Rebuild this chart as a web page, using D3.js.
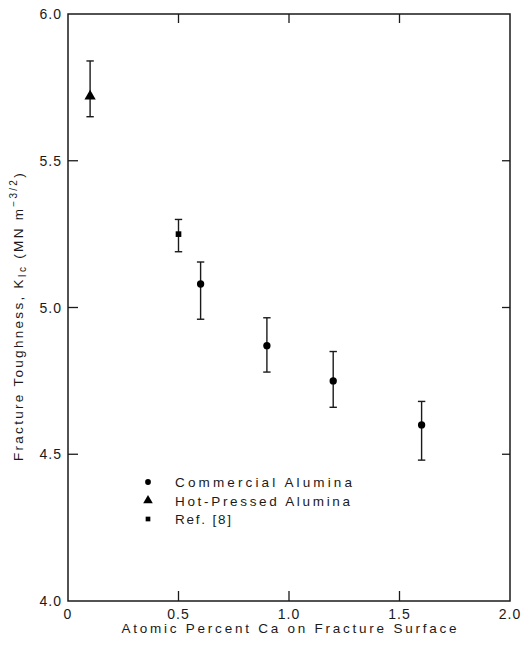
<!DOCTYPE html>
<html>
<head>
<meta charset="utf-8">
<script src="https://cdn.jsdelivr.net/npm/d3@7"></script>
<style>
  body { margin: 0; background: #fff; }
  text { font-family: "Liberation Sans", Arial, sans-serif; fill: #1a1a1a; }
</style>
</head>
<body>
<div id="chart-area"></div>
<script>
/* Fracture toughness vs. Ca on fracture surface */

// data
var commercialX = [0.6, 0.9, 1.2, 1.6];
var commercialY = [5.08, 4.87, 4.75, 4.60];
var commercialHi = [5.155, 4.965, 4.85, 4.68];
var commercialLo = [4.96, 4.78, 4.66, 4.48];

var hotPressedX = [0.1];
var hotPressedY = [5.72];
var hotPressedHi = [5.84];
var hotPressedLo = [5.65];

var refX = [0.5];
var refY = [5.25];
var refHi = [5.30];
var refLo = [5.19];

var xTicks = [0, 0.5, 1.0, 1.5, 2.0];
var xTickLabels = ["0", "0.5", "1.0", "1.5", "2.0"];
var yTicks = [4.0, 4.5, 5.0, 5.5, 6.0];
var yTickLabels = ["4.0", "4.5", "5.0", "5.5", "6.0"];

var legendLabels = ["Commercial Alumina", "Hot-Pressed Alumina", "Ref. [8]"];

var W = 524, H = 646;
var margin = { left: 68, right: 14, top: 14, bottom: 45 };

var svg = d3.select("#chart-area")
    .append("svg")
    .attr("width", W)
    .attr("height", H);

var x = d3.scaleLinear().domain([0, 2]).range([margin.left, W - margin.right]);
var y = d3.scaleLinear().domain([4, 6]).range([H - margin.bottom, margin.top]);

var ink = "#1a1a1a";

// frame
svg.append("rect")
    .attr("x", x(0)).attr("y", y(6))
    .attr("width", x(2) - x(0)).attr("height", y(4) - y(6))
    .attr("fill", "none").attr("stroke", ink).attr("stroke-width", 1.5);

// inward ticks on all four sides
var inner = [0.5, 1.0, 1.5];
var innerY = [4.5, 5.0, 5.5];
var tickG = svg.append("g").attr("stroke", ink).attr("stroke-width", 1.3);
inner.forEach(function(v) {
    tickG.append("line").attr("x1", x(v)).attr("x2", x(v)).attr("y1", y(4)).attr("y2", y(4) - 10);
    tickG.append("line").attr("x1", x(v)).attr("x2", x(v)).attr("y1", y(6)).attr("y2", y(6) + 9);
});
innerY.forEach(function(v) {
    tickG.append("line").attr("x1", x(0)).attr("x2", x(0) + 10).attr("y1", y(v)).attr("y2", y(v));
    tickG.append("line").attr("x1", x(2)).attr("x2", x(2) - 8).attr("y1", y(v)).attr("y2", y(v));
});

// tick labels
svg.append("g").selectAll("text")
    .data(xTicks)
    .enter()
    .append("text")
    .attr("x", function(d) { return x(d); })
    .attr("y", y(4) + 18)
    .attr("text-anchor", "middle")
    .attr("font-size", 14)
    .attr("letter-spacing", 1)
    .text(function(d, i) { return xTickLabels[i]; });

svg.append("g").selectAll("text")
    .data(yTicks)
    .enter()
    .append("text")
    .attr("x", x(0) - 6)
    .attr("y", function(d) { return y(d) + 5; })
    .attr("text-anchor", "end")
    .attr("font-size", 14)
    .attr("letter-spacing", 1)
    .text(function(d, i) { return yTickLabels[i]; });

// axis titles
svg.append("text")
    .attr("x", 289)
    .attr("y", 633)
    .attr("text-anchor", "middle")
    .attr("font-size", 13.5)
    .attr("textLength", 335)
    .attr("lengthAdjust", "spacing")
    .text("Atomic Percent Ca on Fracture Surface");

var yt = svg.append("text")
    .attr("transform", "translate(23,316) rotate(-90)")
    .attr("text-anchor", "middle")
    .attr("font-size", 13.5)
    .attr("letter-spacing", 2.3);
yt.append("tspan").text("Fracture Toughness, K");
yt.append("tspan").attr("font-size", 10).attr("dy", 3).text("Ic");
yt.append("tspan").attr("dy", -3).text(" (MN m");
yt.append("tspan").attr("font-size", 10).attr("dy", -6).text("\u22123/2");
yt.append("tspan").attr("dy", 6).text(")");

// error bars + markers
function series(xs, ys, hi, lo, sym, size) {
    var data = xs.map(function(d, i) {
        return { x: d, y: ys[i], hi: hi[i], lo: lo[i] };
    });
    var g = svg.append("g");
    g.selectAll("line.bar").data(data).enter().append("line")
        .attr("x1", function(d) { return x(d.x); })
        .attr("x2", function(d) { return x(d.x); })
        .attr("y1", function(d) { return y(d.hi); })
        .attr("y2", function(d) { return y(d.lo); })
        .attr("stroke", ink).attr("stroke-width", 1.4);
    ["hi", "lo"].forEach(function(k) {
        g.selectAll("line.cap" + k).data(data).enter().append("line")
            .attr("x1", function(d) { return x(d.x) - 3.7; })
            .attr("x2", function(d) { return x(d.x) + 3.7; })
            .attr("y1", function(d) { return y(d[k]); })
            .attr("y2", function(d) { return y(d[k]); })
            .attr("stroke", ink).attr("stroke-width", 1.4);
    });
    g.selectAll("path").data(data).enter().append("path")
        .attr("transform", function(d) { return "translate(" + x(d.x) + "," + y(d.y) + ")"; })
        .attr("d", d3.symbol().type(sym).size(size))
        .attr("fill", "#000");
}

series(commercialX, commercialY, commercialHi, commercialLo, d3.symbolCircle, 42);
series(hotPressedX, hotPressedY, hotPressedHi, hotPressedLo, d3.symbolTriangle, 55);
series(refX, refY, refHi, refLo, d3.symbolSquare, 32);

// legend
var legSyms = [d3.symbolCircle, d3.symbolTriangle, d3.symbolSquare];
var legSizes = [26, 40, 22];
var legLens = [177, 175, 56];
var leg = svg.append("g");
legendLabels.forEach(function(lab, i) {
    var ly = 482 + i * 18.5;
    leg.append("path")
        .attr("transform", "translate(148," + ly + ")")
        .attr("d", d3.symbol().type(legSyms[i]).size(legSizes[i]))
        .attr("fill", "#000");
    leg.append("text")
        .attr("x", 175)
        .attr("y", ly + 5)
        .attr("font-size", 13.5)
        .attr("textLength", legLens[i])
        .attr("lengthAdjust", "spacing")
        .text(lab);
});
</script>
</body>
</html>
